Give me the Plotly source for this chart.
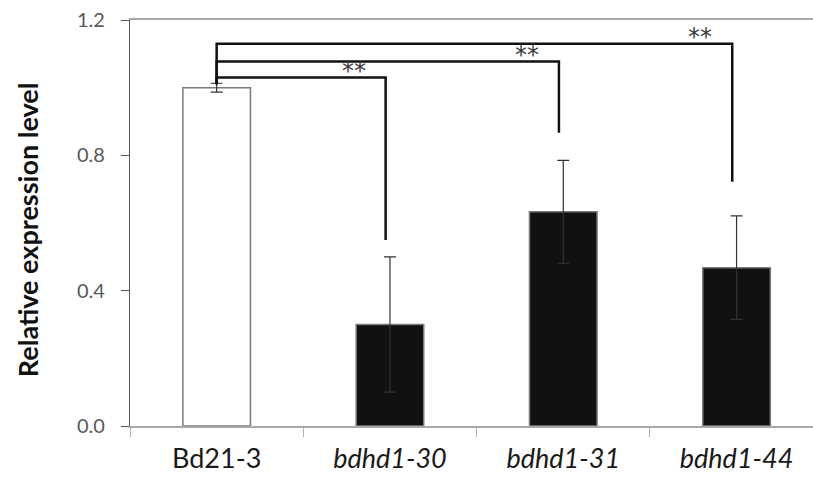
import plotly.graph_objects as go

# ---- data ----
categories = ["Bd21-3", "bdhd1-30", "bdhd1-31", "bdhd1-44"]
tick_text = ["Bd21-3", "<i>bdhd1-30</i>", "<i>bdhd1-31</i>", "<i>bdhd1-44</i>"]
values = [1.00, 0.30, 0.633, 0.468]
errors = [0.013, 0.20, 0.152, 0.153]
bar_fill = ["#ffffff", "#111111", "#111111", "#111111"]
y_ticks = [0.0, 0.4, 0.8, 1.2]

# significance brackets (from Bd21-3 to each mutant)
bracket_targets = [1, 2, 3]
bracket_top = [1.030, 1.077, 1.130]
bracket_bottom = [0.55, 0.867, 0.722]
bracket_left_bottom = 1.01
bracket_label = ["**", "**", "**"]

xpos = list(range(len(categories)))

fig = go.Figure()

fig.add_trace(go.Bar(
    x=xpos, y=values,
    width=0.39,
    marker=dict(color=bar_fill, line=dict(color="#7a7a7a", width=1.5)),
    error_y=dict(type="data", array=errors, visible=True,
                 color="#333333", thickness=1.2, width=6),
    showlegend=False,
))

# brackets
for t, top, bot in zip(bracket_targets, bracket_top, bracket_bottom):
    xe = t - 0.025
    fig.add_trace(go.Scatter(
        x=[0, 0, xe, xe], y=[bracket_left_bottom, top, top, bot],
        mode="lines", line=dict(color="#111111", width=2.5),
        showlegend=False, hoverinfo="skip",
    ))

for t, top, lab in zip(bracket_targets, bracket_top, bracket_label):
    fig.add_annotation(
        x=t - 0.21, y=top, text=lab, showarrow=False,
        xref="x", yref="y", yanchor="bottom", yshift=-9,
        font=dict(family="DejaVu Sans", size=24, color="#3a3a3a"),
    )

# y title
fig.add_annotation(
    x=-0.176, y=0.483, xref="paper", yref="paper",
    text="<b>Relative expression level</b>", textangle=-90,
    showarrow=False, font=dict(family="Lato", size=27, color="#111111"),
)

# y-axis line continuing below the x axis (first boundary tick)
fig.add_shape(type="line", xref="paper", yref="y", ysizemode="pixel", yanchor=0,
              x0=0, x1=0, y0=0, y1=-9, line=dict(color="#555555", width=1.2))

fig.update_layout(
    width=813, height=479,
    margin=dict(l=130, r=0, t=20, b=53),
    plot_bgcolor="white", paper_bgcolor="white",
    xaxis=dict(
        range=[-0.5, 3.441], automargin=False,
        tickmode="array", tickvals=xpos, ticktext=tick_text,
        ticks="", ticklabelstandoff=8,
        minor=dict(tickmode="array", tickvals=[-0.5, 0.5, 1.5, 2.5, 3.5],
                   ticks="outside", ticklen=9, tickcolor="#b0b0b0"),
        showline=True, mirror=True, linecolor="#a8a8a8", linewidth=1.5,
        showgrid=False, zeroline=False,
        tickfont=dict(family="Lato", size=27, color="#1a1a1a"),
    ),
    yaxis=dict(
        range=[0, 1.2], automargin=False,
        tickmode="array", tickvals=y_ticks,
        ticktext=[f"{v:.1f}" for v in y_ticks],
        ticks="outside", ticklen=8, tickcolor="#555555",
        ticklabelstandoff=12,
        showline=True, linecolor="#555555", linewidth=1.2,
        showgrid=False, zeroline=False,
        tickfont=dict(family="Lato", size=20, color="#595959"),
    ),
)

fig.write_html(
    "out.html",
    config={"displayModeBar": False},
    post_script="document.body.style.margin='0';document.body.style.overflow='hidden';",
)
